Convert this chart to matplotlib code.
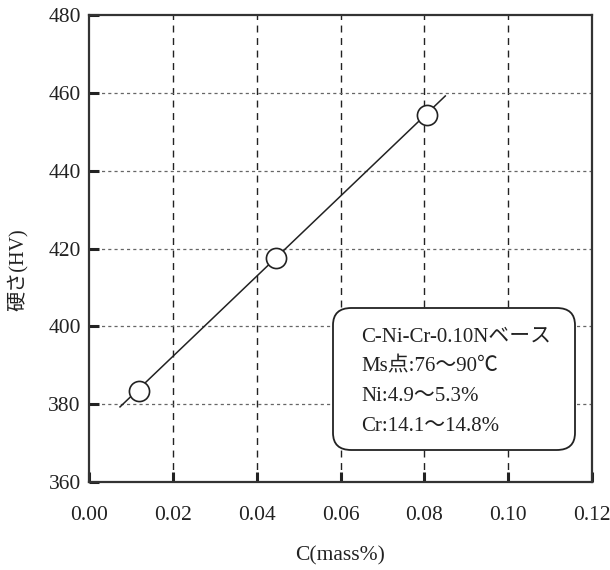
from matplotlib import pyplot as plt
from matplotlib.patches import FancyBboxPatch

plt.rcParams['font.family'] = ['Liberation Serif', 'Noto Sans CJK JP']

# measured points (C mass%, hardness HV)
carbon = [0.0119, 0.0446, 0.0807]
hardness = [383.4, 417.6, 454.3]

# fitted line end points
fit_x = [0.0074, 0.085]
fit_y = [379.3, 459.2]

x_ticks = [0.00, 0.02, 0.04, 0.06, 0.08, 0.10, 0.12]
y_ticks = [360, 380, 400, 420, 440, 460, 480]

note_lines = ['C-Ni-Cr-0.10Nベース', 'Ms点:76～90℃', 'Ni:4.9～5.3%', 'Cr:14.1～14.8%']

fig = plt.figure(figsize=(6.1, 5.7), dpi=100)
ax = fig.add_axes([89 / 610, 1 - 482 / 570, 503 / 610, 467 / 570])

ax.set_xlim(0, 0.12)
ax.set_ylim(360, 480)
ax.set_xticks(x_ticks)
ax.set_yticks(y_ticks)
ax.set_xticklabels(['%.2f' % v for v in x_ticks])
ax.set_yticklabels([str(v) for v in y_ticks])

# grid: vertical dashed black, horizontal fine dotted gray
for xv in x_ticks[1:-1]:
    ax.axvline(xv, color='#222222', lw=1.0, dashes=(5, 4), zorder=1)
for yv in y_ticks[1:-1]:
    ax.axhline(yv, color='#666666', lw=0.9, dashes=(2.5, 2.5), zorder=1)

ax.plot(fit_x, fit_y, color='#222222', lw=1.1, zorder=2)
ax.plot(carbon, hardness, 'o', ms=14.5, mfc='white', mec='#222222', mew=1.2, zorder=3)

for s in ax.spines.values():
    s.set_linewidth(1.6)
    s.set_color('#333333')

ax.tick_params(axis='both', direction='in', length=7, width=2.2, color='#222222',
               labelsize=15.5, labelcolor='#222222', top=False, right=False)
ax.tick_params(axis='x', pad=17)
ax.tick_params(axis='y', pad=6)

ax.set_xlabel('C(mass%)', fontsize=15.5, color='#222222')
ax.set_ylabel('硬さ(HV)', fontsize=14.5, color='#222222')
ax.yaxis.set_label_coords(-61 / 503, (482 - 270) / 467)
ax.xaxis.set_label_coords(0.5, -(546 - 482) / 467)

# note box
box_x0, box_y0 = 333 / 610, 1 - 450 / 570
box_w, box_h = 242 / 610, 142 / 570
box = FancyBboxPatch((box_x0 + 0.03, box_y0 + 0.03), box_w - 0.06, box_h - 0.06,
                     boxstyle='round,pad=0.03', transform=fig.transFigure,
                     facecolor='white', edgecolor='#222222', lw=1.3, zorder=5)
fig.patches.append(box)
for i, line in enumerate(note_lines):
    fig.text(361 / 610, 1 - (337 + i * 29.7) / 570, line, fontsize=15,
             va='center', ha='left', color='#222222', zorder=6)

fig.savefig('out.png', dpi=100)
